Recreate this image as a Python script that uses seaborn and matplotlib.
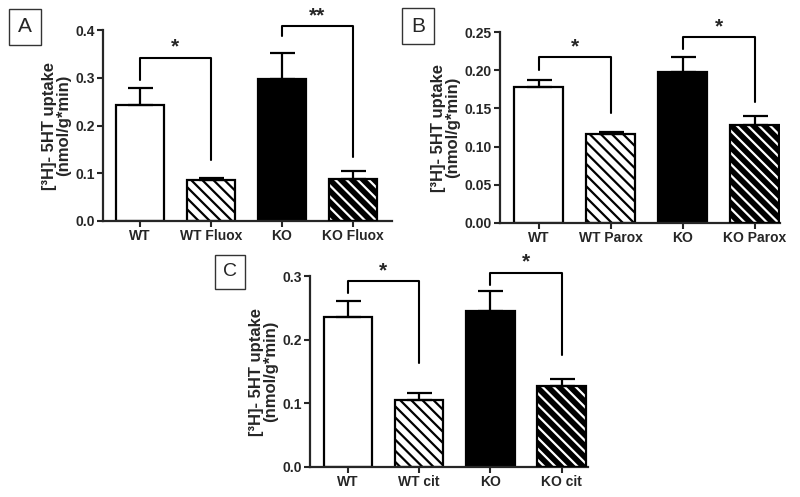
import matplotlib
matplotlib.use('Agg')
import matplotlib.pyplot as plt
import seaborn as sns
import pandas as pd

# Panel data (means and upper error bars)
labels_a = ['WT', 'WT Fluox', 'KO', 'KO Fluox']
means_a = [0.243, 0.085, 0.298, 0.088]
err_a = [0.035, 0.006, 0.054, 0.016]

labels_b = ['WT', 'WT Parox', 'KO', 'KO Parox']
means_b = [0.178, 0.116, 0.197, 0.128]
err_b = [0.009, 0.003, 0.020, 0.012]

labels_c = ['WT', 'WT cit', 'KO', 'KO cit']
means_c = [0.235, 0.106, 0.245, 0.127]
err_c = [0.025, 0.011, 0.032, 0.011]

# significance brackets: (left, right, top, left leg end, right leg end, label)
brackets_a = [(0, 1, 0.342, 0.295, 0.128, '*'), (2, 3, 0.408, 0.387, 0.134, '**')]
brackets_b = [(0, 1, 0.217, 0.200, 0.144, '*'), (2, 3, 0.243, 0.228, 0.158, '*')]
brackets_c = [(0, 1, 0.292, 0.273, 0.163, '*'), (2, 3, 0.305, 0.286, 0.176, '*')]

sns.set_style("ticks")
plt.rcParams['font.family'] = ['Liberation Sans', 'DejaVu Sans']
plt.rcParams['hatch.linewidth'] = 1.6

fig = plt.figure(figsize=(8, 4.97), dpi=100)
W, H = 800, 497


def axes_px(x0, x1, ytop, ybot):
    return fig.add_axes([x0 / W, 1 - ybot / H, (x1 - x0) / W, (ybot - ytop) / H])


def panel(ax, labels, means, errs, brackets, ymax, step, fmt, xlim):
    df = pd.DataFrame({'grp': labels, 'val': means})
    sns.barplot(data=df, x='grp', y='val', ax=ax, width=0.68, color='white',
                edgecolor='black', linewidth=1.6, errorbar=None)
    bars = ax.patches
    # hatched WT treatment: white with black stripes
    bars[1].set_hatch('\\\\\\')
    # black KO
    bars[2].set_facecolor('black')
    # KO treatment: black with white stripes
    b = bars[3]
    b.set_facecolor('black')
    b.set_edgecolor('white')
    b.set_hatch('\\\\\\')
    b.set_linewidth(0)
    ax.bar(b.get_x() + b.get_width() / 2, b.get_height(), width=b.get_width(),
           facecolor='none', edgecolor='black', linewidth=1.6, zorder=3)
    ax.errorbar(range(len(labels)), means, yerr=[[0] * len(errs), errs],
                fmt='none', ecolor='black', elinewidth=1.6, capsize=9,
                capthick=1.6, zorder=1)
    for x0, x1, top, l0, l1, txt in brackets:
        ax.plot([x0, x0, x1, x1], [l0, top, top, l1], color='black', lw=1.5,
                clip_on=False)
        ax.text((x0 + x1) / 2, top + ymax * 0.005, txt, ha='center', va='bottom',
                fontsize=15, fontweight='bold')
    ax.set_ylim(0, ymax)
    ax.set_xlim(*xlim)
    ticks = [i * step for i in range(int(round(ymax / step)) + 1)]
    ax.set_yticks(ticks)
    ax.set_yticklabels([fmt.format(t) for t in ticks])
    ax.set_xlabel('')
    ax.set_ylabel('[³H]- 5HT uptake\n(nmol/g*min)', fontsize=12,
                  fontweight='bold', linespacing=0.95, labelpad=3)
    for lab in ax.get_xticklabels() + ax.get_yticklabels():
        lab.set_fontweight('bold')
        lab.set_fontsize(10)
    ax.tick_params(width=1.5, length=4, pad=2)
    for s in ['left', 'bottom']:
        ax.spines[s].set_linewidth(1.6)
    sns.despine(ax=ax)


ax_a = axes_px(103, 392, 30, 221)
panel(ax_a, labels_a, means_a, err_a, brackets_a, 0.4, 0.1, '{:.1f}', (-0.52, 3.55))

ax_b = axes_px(500, 780, 32, 223)
panel(ax_b, labels_b, means_b, err_b, brackets_b, 0.25, 0.05, '{:.2f}', (-0.54, 3.35))

ax_c = axes_px(310, 588, 276, 467)
panel(ax_c, labels_c, means_c, err_c, brackets_c, 0.3, 0.1, '{:.1f}', (-0.53, 3.37))

box = dict(boxstyle='square,pad=0.42', facecolor='white', edgecolor='#333333', lw=1.0)
fig.text(25 / W, 1 - 27 / H, 'A', ha='center', va='center', fontsize=15, bbox=box)
fig.text(418 / W, 1 - 26 / H, 'B', ha='center', va='center', fontsize=15, bbox=box)
fig.text(230 / W, 1 - 272 / H, 'C', ha='center', va='center', fontsize=14, bbox=box)

fig.savefig('out.png', dpi=100)
